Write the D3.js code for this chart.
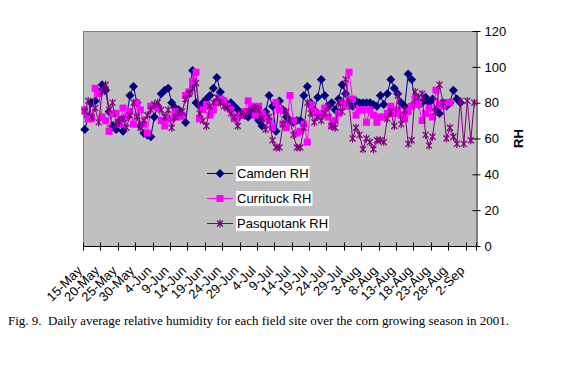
<!DOCTYPE html>
<html><head><meta charset="utf-8">
<script src="https://cdn.jsdelivr.net/npm/d3@7"></script>
<style>body{margin:0;background:#fff}svg{display:block}</style>
</head><body>
<svg id="c" width="566" height="382"></svg>
<script>
const tickLabels = ["15-May","20-May","25-May","30-May","4-Jun","9-Jun","14-Jun","19-Jun","24-Jun","29-Jun","4-Jul","9-Jul","14-Jul","19-Jul","24-Jul","29-Jul","3-Aug","8-Aug","13-Aug","18-Aug","23-Aug","28-Aug","2-Sep"];
const yTicks = [0,20,40,60,80,100,120];
const seriesNames = ["Camden RH","Currituck RH","Pasquotank RH"];
const camden = [65,72,80,81,86,90,87,75,67,65,70,64,72,84,89,80,67,63,62,61,72,78,85,87,88,80,77,76,73,69,85,98,80,78,80,82,84,88,94,86,81,78,80,78,76,74,73,72,75,73,70,67,75,84,78,64,81,76,72,70,69,70,70,84,89,80,76,83,93,84,78,80,76,82,90,85,80,78,81,80,80,80,80,79,78,84,79,85,93,88,85,80,78,96,93,80,79,80,83,80,82,76,74,80,78,80,87,82,80];
const currituck = [76,71,71,88,85,72,70,64,74,74,68,77,72,75,68,80,76,68,63,78,78,77,70,67,71,71,75,72,73,84,86,92,97,71,76,79,73,76,80,82,81,78,76,71,72,73,75,81,78,73,78,74,72,70,66,80,76,68,66,84,70,63,64,68,58,79,75,73,74,77,72,67,70,74,80,78,97,82,73,76,76,69,76,73,69,72,72,74,78,74,76,73,71,75,78,82,79,70,74,77,72,87,79,78,80,80];
const pasquotank = [75,81,72,77,69,86,90,76,80,68,69,71,66,73,80,72,66,70,73,76,79,80,76,72,76,66,72,74,75,82,85,88,91,74,70,67,78,80,83,80,78,77,74,72,67,74,73,75,76,77,76,71,65,72,59,55,55,68,75,70,62,55,55,66,80,74,69,72,70,74,78,67,66,80,75,93,80,60,66,62,54,60,58,54,59,59,58,71,75,67,84,68,76,57,59,86,83,85,62,56,61,75,90,80,60,66,61,57,81,57,81,59,80];
const nCat = 113;

const svg = d3.select("#c");
const L = 83, R = 476, T = 31, B = 246;
const x = d3.scaleBand().domain(d3.range(nCat)).range([L, R]).paddingInner(0).paddingOuter(0);
const y = d3.scaleLinear().domain([0,120]).range([B, T]);
const cx = i => x(i) + x.bandwidth()/2;
const font = "'Liberation Sans', Arial, sans-serif";

svg.append("rect").attr("x", L).attr("y", T).attr("width", R-L).attr("height", B-T).attr("fill", "#C0C0C0");
svg.append("line").attr("x1", L+0.5).attr("x2", L+0.5).attr("y1", T).attr("y2", B).attr("stroke", "#808080");
svg.append("line").attr("x1", L).attr("x2", R).attr("y1", T+0.5).attr("y2", T+0.5).attr("stroke", "#808080");

// right axis
const yAxis = d3.axisRight(y).tickValues(yTicks).tickSize(0).tickPadding(8);
const ya = svg.append("g").attr("transform", `translate(${R+0.5},0)`).call(yAxis);
ya.select(".domain").attr("stroke", "#000");
ya.selectAll(".tick line").remove();
ya.selectAll(".tick").append("line").attr("x1", -4).attr("x2", 4).attr("stroke", "#000");
ya.selectAll("text").attr("font-family", font).attr("font-size", 13).attr("fill", "#000");
svg.append("text").attr("transform", `translate(523,138.5) rotate(-90)`).attr("text-anchor", "middle")
  .attr("font-family", font).attr("font-size", 13).attr("font-weight", "bold").text("RH");

// bottom axis
const xa = svg.append("g").attr("transform", `translate(0,${B+0.5})`);
xa.append("line").attr("x1", L).attr("x2", R+0.5).attr("stroke", "#000");
const tickIdx = d3.range(0, nCat, 5);
xa.selectAll("line.t").data(tickIdx.concat([nCat])).enter().append("line").attr("class","t")
  .attr("x1", d => Math.round(d < nCat ? x(d) : R)+0.5).attr("x2", d => Math.round(d < nCat ? x(d) : R)+0.5)
  .attr("y1", -4).attr("y2", 4).attr("stroke", "#000");
xa.selectAll("text").data(tickLabels).enter().append("text")
  .attr("transform", (d,i) => `translate(${cx(i*5)-2},${25}) rotate(-45)`)
  .attr("text-anchor", "end").attr("font-family", font).attr("font-size", 13).text(d => d);

// series
const colors = ["#000080", "#FF00FF", "#800080"];
const data = [camden, currituck, pasquotank];
function marker(g, k, c) {
  if (k === 0) g.append("path").attr("d", "M0,-4.5L4.5,0L0,4.5L-4.5,0Z").attr("fill", c);
  else if (k === 1) g.append("rect").attr("x", -3.5).attr("y", -3.5).attr("width", 7).attr("height", 7).attr("fill", c);
  else g.append("path").attr("d", "M-3,-3L3,3M-3,3L3,-3M0,-4L0,4").attr("stroke", c).attr("stroke-width", 1.2).attr("fill", "none");
}
data.forEach((arr, k) => {
  const line = d3.line().x((d,i) => cx(i)).y(d => y(d));
  svg.append("path").datum(arr).attr("d", line).attr("fill", "none").attr("stroke", colors[k]).attr("stroke-width", 1);
  const mg = svg.append("g");
  arr.forEach((v,i) => { const g = mg.append("g").attr("transform", `translate(${cx(i)},${y(v)})`); marker(g, k, colors[k]); });
});

// legend
seriesNames.forEach((name, k) => {
  const ly = 173 + k*25;
  const lg = svg.append("g");
  lg.append("line").attr("x1", 207).attr("x2", 233).attr("y1", ly+0.5).attr("y2", ly+0.5).attr("stroke", colors[k]);
  const g = lg.append("g").attr("transform", `translate(220,${ly+0.5})`); marker(g, k, colors[k]);
  const bgr = lg.append("rect").attr("fill", "#fff");
  const t = lg.append("text").attr("x", 237).attr("y", ly+5).attr("font-family", font).attr("font-size", 13).text(name);
  const bb = t.node().getBBox();
  bgr.attr("x", bb.x-1).attr("y", bb.y).attr("width", bb.width+2).attr("height", bb.height);
});

svg.append("text").attr("x", 8).attr("y", 325).attr("font-family", "'Liberation Serif', 'Times New Roman', serif").attr("font-size", 13)
  .style("white-space","pre")
  .text("Fig. 9.  Daily average relative humidity for each field site over the corn growing season in 2001.");
</script>
</body></html>
